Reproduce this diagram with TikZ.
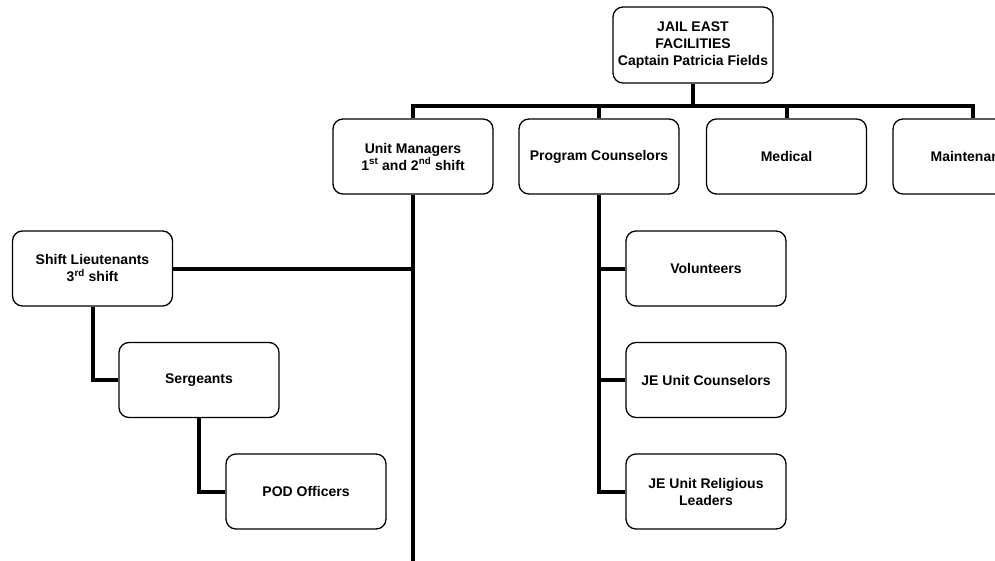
\documentclass[tikz,border=0pt]{standalone}
\usepackage{fontspec}
\setmainfont{Liberation Sans}
\begin{document}
\begin{tikzpicture}[x=1pt,y=-1pt,
  box/.style={draw=black,line width=1.3pt,rounded corners=10pt,minimum width=160pt,minimum height=75pt,
    align=center,font=\fontsize{14}{17}\selectfont\bfseries,inner sep=2pt},
  conn/.style={draw=black,line width=4pt,line join=miter}]
\useasboundingbox (0,0) rectangle (995,561);
\clip (0,0) rectangle (995,561);
\node[box,minimum height=76pt] (top) at (693,45) {JAIL EAST\\FACILITIES\\Captain Patricia Fields};
\node[box] (um) at (413,156.5) {Unit Managers\\1\textsuperscript{st} and 2\textsuperscript{nd} shift};
\node[box] (pc) at (599,156.5) {Program Counselors};
\node[box] (med) at (786.5,156.5) {Medical};
\node[box] (mt) at (973,156.5) {Maintenance};
\node[box] (sl) at (92.5,268.5) {Shift Lieutenants\\3\textsuperscript{rd} shift};
\node[box] (sg) at (199,380) {Sergeants};
\node[box] (pod) at (306,491.5) {POD Officers};
\node[box] (vol) at (706,268.5) {Volunteers};
\node[box] (jec) at (706,380) {JE Unit Counselors};
\node[box] (jer) at (706,491.5) {JE Unit Religious\\Leaders};
\coordinate (bus) at (693,106);
\coordinate (umend) at (413,561);
\draw[conn] (top.south) -- (bus);
\draw[conn] (um.north) -- (um.north |- bus) -- (mt.north |- bus) -- (mt.north);
\draw[conn] (pc.north) -- (pc.north |- bus);
\draw[conn] (med.north) -- (med.north |- bus);
\draw[conn] (um.south) -- (umend);
\draw[conn] (sl.east) -- (sl.east -| um.south);
\draw[conn] (sl.south) |- (sg.west);
\draw[conn] (sg.south) |- (pod.west);
\draw[conn] (pc.south) |- (jer.west);
\draw[conn] (pc.south |- vol.west) -- (vol.west);
\draw[conn] (pc.south |- jec.west) -- (jec.west);
\end{tikzpicture}
\end{document}
